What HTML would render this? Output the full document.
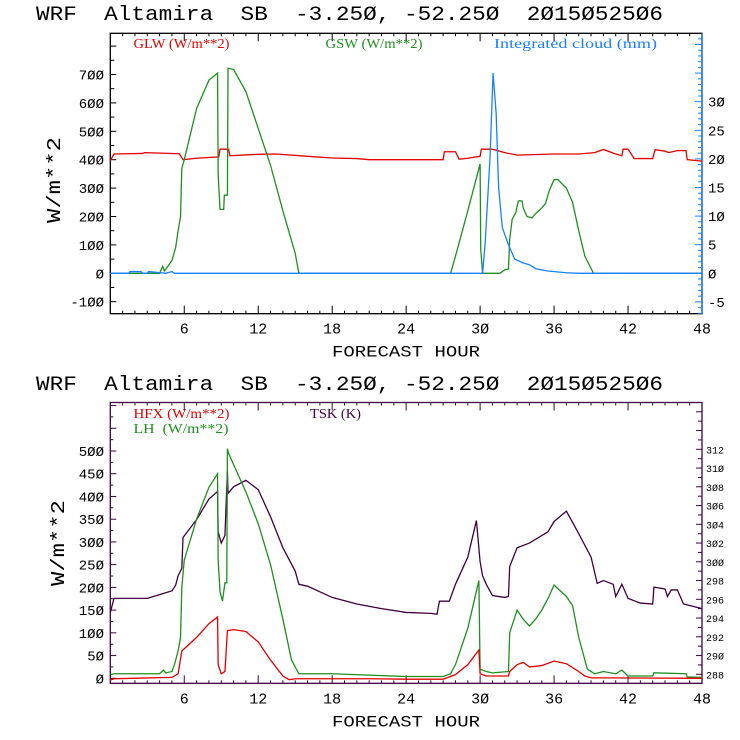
<!DOCTYPE html>
<html><head><meta charset="utf-8"><style>
html,body{margin:0;padding:0;background:#fff;}
svg{display:block;}
text{font-family:"Liberation Mono",monospace;white-space:pre;}
.lg{font-family:"Liberation Serif",serif;font-size:14px;}
</style></head><body>
<svg id="chart" width="740" height="740" viewBox="0 0 740 740" xmlns="http://www.w3.org/2000/svg" xml:space="preserve"></svg>
<script>
// ---- data (hour, value) ----
const glwHours=[0,0.3,2.6,2.8,5.6,5.9,7,8.8,8.9,9.6,9.7,12,13.5,16,18,20,21,27,27.1,28,28.3,29,30,30.1,31,32,33,36,38,39.3,40,41,41.5,41.6,42,42.5,44,44.2,45,45.3,46,46.7,46.8,48];
const glwVals=[397,420,422,425,421,400,405,410,437,437,414,419,420,412,406,404,400,400,428,428,402,405,412,437,437,425,416,420,420,425,436,420,414,437,437,404,404,435,430,425,432,432,400,395];
const gswHours=[0,4.0,4.25,4.4,5.0,5.3,5.5,5.7,5.8,6,7,8,8.7,8.75,8.9,9.2,9.25,9.5,9.55,10,11,12,13,14,15,15.3,27.6,28,29,30,30.05,30.2,31.6,32,32.3,32.4,32.6,32.9,33.1,33.4,33.5,33.8,34.2,34.5,35,35.3,35.6,36,36.3,37,37.5,38,38.5,39.2,48];
const gswVals=[0,0,25,8,45,90,150,200,370,400,580,680,705,350,225,225,275,275,722,718,640,510,380,220,70,0,0,60,220,385,85,0,0,12,15,120,190,215,255,255,230,200,195,210,230,245,290,330,330,300,250,150,60,0,0];
const cloudHours=[0,1.5,1.6,2.5,2.6,3,3.1,4.5,5,5.2,30.2,30.4,30.8,31.05,31.3,31.5,31.8,32.3,32.8,33.5,34,34.5,35.5,37,38,48];
const cloudVals=[0,0,0.3,0.3,0,0,0.3,0,0.3,0,0,5,20,35,28,15,8,5,2.5,1.8,1.5,0.8,0.4,0.1,0,0];
const tskHours=[0,0.3,3,4,5,5.3,5.5,5.8,5.9,7,8,8.7,8.75,9.0,9.3,9.5,9.55,10,11,12,13,14,15,15.3,16,18,20,22,24,26,26.5,26.7,27.5,28,29,29.7,30.0,30.2,30.5,31,32,32.3,32.4,33,34,35,35.5,36,37,38,39,39.5,40,40.8,41,41.5,42,43,44,44.1,45,45.2,45.5,46,46.5,48];
const tskVals=[294.6,296.1,296.1,296.5,296.9,297.5,298.5,299.3,302.6,304.5,306.7,307.5,303.2,302,302.8,309.7,307.3,308,308.7,307.7,304.8,301.5,299,297.6,297.4,296.2,295.5,295,294.6,294.5,294.4,295.8,295.8,297.6,300.5,304.4,300,298.5,297.6,296.4,296.2,296.3,299.5,301.5,302,302.8,303.2,304.3,305.4,303,300.5,297.7,298,297.6,296.3,297.6,296.1,295.6,295.5,297.3,297.1,296.3,297,297,295.5,295];
const lhHours=[0,0.3,4,4.3,4.5,5,5.2,5.5,5.7,5.8,6,7,8,8.7,8.75,8.9,9.1,9.3,9.45,9.5,9.6,10,11,12,13,14,14.7,15.3,18,21,24,27,27.6,28,29,29.9,30.0,30.5,31,32.3,32.4,33,33.5,34,34.5,35,35.5,36,37,37.5,38,38.7,39.3,40,41,41.5,42,44,44.1,46.7,46.8,48];
const lhVals=[8,10,10,18,12,15,30,60,90,200,260,350,420,450,260,190,170,210,210,505,495,470,410,340,250,130,40,10,10,7,4,4,10,30,110,215,20,15,12,15,100,150,130,115,130,150,175,205,180,160,90,20,10,15,10,18,5,5,12,10,3,2];
const hfxHours=[0,0.3,5,5.5,5.8,6,7,8,8.7,8.75,9,9.3,9.5,10,11,12,13,14,14.5,15,18,21,24,27,28,29,29.9,30.0,30.5,32.3,32.4,33,33.5,34,35,36,37,38,38.5,39,40,48];
const hfxVals=[-4,-1,2,10,60,65,90,120,135,30,10,15,105,107,103,80,40,5,-3,-1,-1,-1,-2,-2,8,30,62,10,5,5,15,30,35,25,28,38,32,15,5,1,1,0];
const xTicks=[6,12,18,24,30,36,42,48];
const topLeftTicks=[-100,0,100,200,300,400,500,600,700];
const topRightTicks=[-5,0,5,10,15,20,25,30];
const botLeftTicks=[0,50,100,150,200,250,300,350,400,450,500];
const botRightTicks=[288,290,292,294,296,298,300,302,304,306,308,310,312];

const NS="http://www.w3.org/2000/svg";
const svg=document.getElementById('chart');
function mk(tag,attrs,parent,txt){const e=document.createElementNS(NS,tag);for(const k in attrs)e.setAttribute(k,attrs[k]);if(txt!==undefined)e.textContent=txt;(parent||svg).appendChild(e);return e;}
const X0=110.3,X1=702,PH=(X1-X0)/48;
const x=h=>X0+h*PH;
const T={top:33.3,bot:313.7};
const tyL=v=>273.3-v*0.284;
const tyR=c=>273.3-c*5.72;
const B={top:402.5,bot:683.3};
const byL=v=>678.3-v*0.4546;
const byR=k=>674.3-(k-288)*9.375;

function line(hs,vs,yf,color,name,g){
  let d='';for(let i=0;i<hs.length;i++){d+=(i?'L':'M')+x(hs[i]).toFixed(2)+','+yf(vs[i]).toFixed(2);}
  const p=mk('path',{d:d,fill:'none',stroke:color,'stroke-width':1.3},g);
  
  
}
function title(y,g){
  const t=mk('text',{x:36,y:y,'font-size':20,textLength:627,lengthAdjust:'spacingAndGlyphs'},g,'WRF  Altamira  SB  -3.25\u00D8, -52.25\u00D8  2\u00D815\u00D8525\u00D86');
  
  
}
function xaxis(top,bot,g,color){
  for(let h=1;h<48;h++){
    const len=(h%6===0)?8:3;
    mk('line',{x1:x(h),x2:x(h),y1:bot,y2:bot-len,stroke:color,'stroke-width':1},g);
    mk('line',{x1:x(h),x2:x(h),y1:top,y2:top+len,stroke:color,'stroke-width':1},g);
  }
  xTicks.forEach(h=>{
    const t=mk('text',{x:x(h),y:bot+20,'font-size':15,'text-anchor':'middle'},g,String(h).replace(/0/g,'Ø'));
    
    
  });
  const xt=mk('text',{x:406,y:bot+43,'font-size':16,'text-anchor':'middle',textLength:148,lengthAdjust:'spacingAndGlyphs'},g,'FORECAST HOUR');
  
  
}
function ytitle(cx,cy,g){
  const t=mk('text',{x:0,y:0,'font-size':19,'text-anchor':'middle',textLength:86,lengthAdjust:'spacingAndGlyphs',transform:`translate(${cx},${cy}) rotate(-90)`},g,'W/m**2');
  
  
}
const fmt=v=>String(v).replace(/0/g,'Ø');

// ===== TOP PANEL =====
const gt=mk('g',{});


title(20,gt);
mk('rect',{x:X0,y:T.top,width:X1-X0,height:T.bot-T.top,fill:'none',stroke:'#000','stroke-width':1.3},gt);
mk('line',{x1:X1,x2:X1,y1:T.top,y2:T.bot,stroke:'#1a80ff','stroke-width':1.5},gt);
for(let v=-100;v<=850;v+=50){const y=tyL(v);if(y<T.top||y>T.bot)continue;mk('line',{x1:X0,x2:X0+(v%100===0?6:4),y1:y,y2:y,stroke:'#000'},gt);}
topLeftTicks.forEach(v=>{const t=mk('text',{x:104,y:tyL(v)+5,'font-size':14,'text-anchor':'end'},gt,fmt(v));});
for(let c=-7;c<=42;c++){const y=tyR(c);if(y<T.top||y>T.bot)continue;mk('line',{x1:X1,x2:X1-(c%5===0?7:4),y1:y,y2:y,stroke:'#1a80ff'},gt);}
topRightTicks.forEach(c=>{const t=mk('text',{x:708,y:tyR(c)+5,'font-size':14},gt,fmt(c));});
xaxis(T.top,T.bot,gt,'#000');
ytitle(60,180,gt);
[['GLW (W/m**2)',133.5,'#e00000',96],['GSW (W/m**2)',325.5,'#1f8f1f',97],['Integrated cloud (mm)',494,'#1a80ff',163]].forEach(a=>{
  const t=mk('text',{x:a[1],y:48,fill:a[2],class:'lg',textLength:a[3],lengthAdjust:'spacingAndGlyphs'},gt,a[0]);
  
  
});
line(glwHours,glwVals,tyL,'#e00000','glw-line',gt);
line(gswHours,gswVals,tyL,'#1f8f1f','gsw-line',gt);
line(cloudHours,cloudVals,tyR,'#1a80ff','cloud-line',gt);

// ===== BOTTOM PANEL =====
const gb=mk('g',{});


title(390,gb);
const PUR='#400040';
mk('rect',{x:X0,y:B.top,width:X1-X0,height:B.bot-B.top,fill:'none',stroke:PUR,'stroke-width':1.3},gb);
for(let v=0;v<=600;v+=25){const y=byL(v);if(y<B.top||y>B.bot)continue;mk('line',{x1:X0,x2:X0+(v%50===0?6:3),y1:y,y2:y,stroke:PUR},gb);}
botLeftTicks.forEach(v=>{const t=mk('text',{x:104,y:byL(v)+5,'font-size':14,'text-anchor':'end'},gb,fmt(v));});
for(let k=288;k<=317;k++){const y=byR(k);if(y<B.top||y>B.bot)continue;mk('line',{x1:X1,x2:X1-(k%2===0?6:4),y1:y,y2:y,stroke:PUR},gb);}
botRightTicks.forEach(k=>{const t=mk('text',{x:706,y:byR(k)+4,'font-size':10},gb,fmt(k));});
xaxis(B.top,B.bot,gb,PUR);
ytitle(64,543,gb);
[['HFX (W/m**2)',133.5,418,'#e00000',96],['LH  (W/m**2)',133.5,433,'#1f8f1f',95],['TSK (K)',310,418,PUR,51]].forEach(a=>{
  const t=mk('text',{x:a[1],y:a[2],fill:a[3],class:'lg',textLength:a[4],lengthAdjust:'spacingAndGlyphs'},gb,a[0]);
  
  
});
line(tskHours,tskVals,byR,PUR,'tsk-line',gb);
line(lhHours,lhVals,byL,'#1f8f1f','lh-line',gb);
line(hfxHours,hfxVals,byL,'#e00000','hfx-line',gb);
</script>
</body></html>
